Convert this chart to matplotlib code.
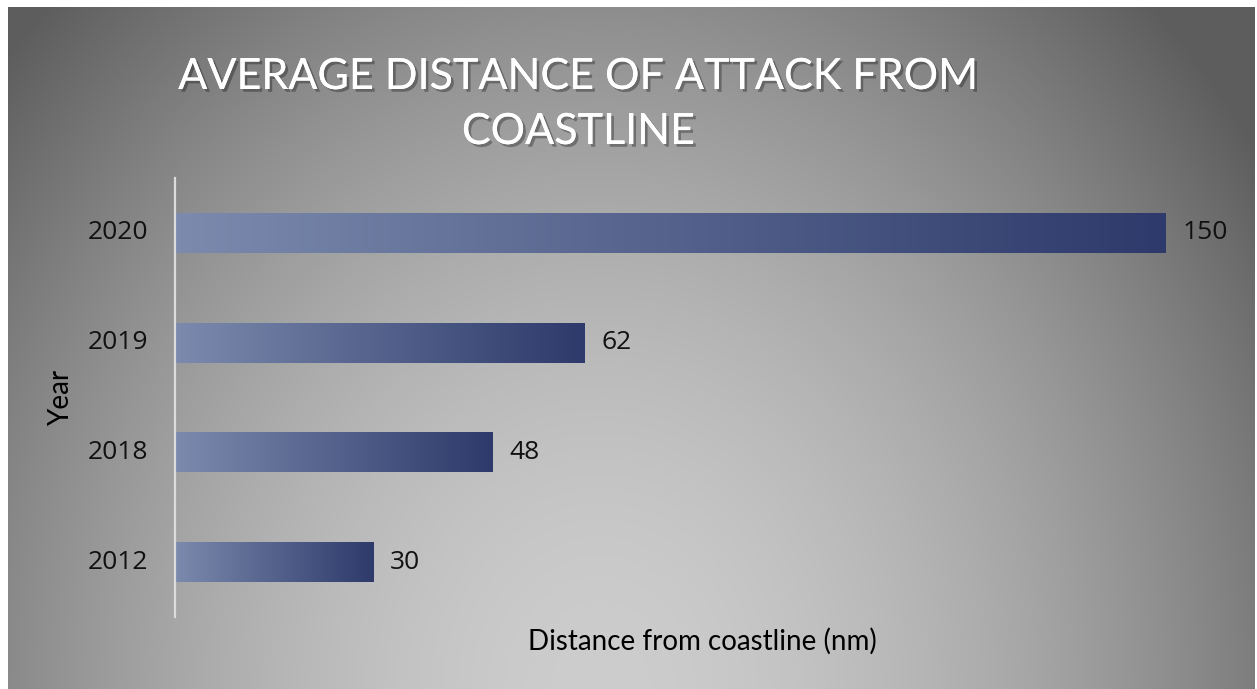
import numpy as np
import matplotlib.pyplot as plt
import matplotlib.patheffects as pe
from matplotlib.colors import LinearSegmentedColormap

# data
years = ['2012', '2018', '2019', '2020']
distances = [30, 48, 62, 150]

title_lines = ['AVERAGE DISTANCE OF ATTACK FROM', 'COASTLINE']
x_label = 'Distance from coastline (nm)'
y_label = 'Year'

W, H = 1257, 689
fig = plt.figure(figsize=(W / 100, H / 100), dpi=100)
fig.patch.set_facecolor('white')

# radial grey background (light at bottom centre, dark at corners)
x0, x1, y0, y1 = 8, W - 2, 7, H
bg = fig.add_axes([x0 / W, 0, (x1 - x0) / W, (y1 - y0) / H])
yy, xx = np.mgrid[y0:y1, x0:x1]
d = np.sqrt(((xx - 600) / 800.0) ** 2 + ((yy - H) / 950.0) ** 2)
f = np.clip(d, 0, 1) ** 1.7
shade = (205 - 112 * f) / 255.0
bg.imshow(np.dstack([shade, shade, shade]), aspect='auto', interpolation='bilinear')
bg.axis('off')

# main axes
ax = fig.add_axes([175 / W, (H - 617) / H, 1057 / W, 439 / H])
ax.patch.set_alpha(0)
bars = ax.barh(years, distances, height=0.364, color='none')

bar_cmap = LinearSegmentedColormap.from_list('bar', ['#7b8aad', '#2d3a6b'])
grad = np.linspace(0, 1, 256).reshape(1, -1)
for bar in bars:
    bx, by = bar.get_x(), bar.get_y()
    im = ax.imshow(grad, cmap=bar_cmap, aspect='auto', interpolation='bilinear',
                   extent=[bx, bx + bar.get_width(), by, by + bar.get_height()], zorder=2)
    im.set_clip_path(bar)

ax.set_xlim(0, 160)
ax.set_ylim(-0.5, len(years) - 0.5)

for s in ['top', 'right', 'bottom']:
    ax.spines[s].set_visible(False)
ax.spines['left'].set_color('#dcdcdc')
ax.spines['left'].set_linewidth(1.6)
ax.set_xticks([])
ax.tick_params(axis='y', length=0, pad=19, labelsize=19, labelcolor='#111111')
for lbl in ax.get_yticklabels():
    lbl.set_family('Open Sans')
    lbl.set_verticalalignment('center')

px_per_unit = 1057 / 160
for i, v in enumerate(distances):
    ax.text(v + 17 / px_per_unit, i, str(v), va='center', ha='left',
            fontsize=19, color='#111111', family='Open Sans')

# title with soft shadow
shadow = [pe.withSimplePatchShadow(offset=(2, -2), shadow_rgbFace='black', alpha=0.3),
          pe.Normal()]
fig.text(577 / W, 1 - 77 / H, title_lines[0], ha='center', va='center', color='white',
         fontsize=31, family='Lato', path_effects=shadow)
fig.text(578 / W, 1 - 132 / H, title_lines[1], ha='center', va='center', color='white',
         fontsize=31, family='Lato', path_effects=shadow)

# axis titles
fig.text(702 / W, 1 - 641 / H, x_label, ha='center', va='center', fontsize=20,
         color='black', family='Lato')
fig.text(61 / W, 1 - 398 / H, y_label, ha='center', va='center', rotation=90,
         fontsize=20, color='black', family='Lato')

fig.savefig('out.png', dpi=100)
